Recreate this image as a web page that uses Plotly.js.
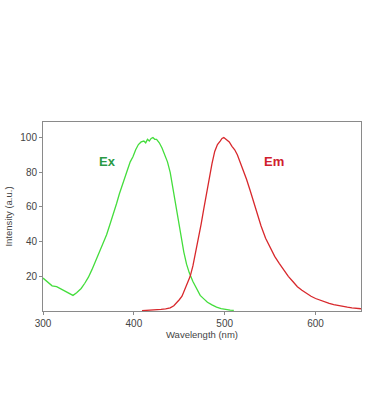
<!DOCTYPE html>
<html>
<head>
<meta charset="utf-8">
<script src="https://cdn.plot.ly/plotly-3.0.1.min.js"></script>
<style>html,body{margin:0;padding:0;background:#fff;}#chart{width:370px;height:420px;}</style>
</head>
<body>
<div id="chart"></div>
<script>
var exWavelength = [300,305,310,315,320,325,330,333,337,342,346,350,354,358,362,366,370,374,378,381,384,387,390,393,396,399,402,405,408,411,413,415,417,419,421,423,425,428,431,434,437,440,443,446,449,452,455,458,461,465,469,473,477,481,486,491,496,501,506,510];
var exIntensity  = [19,17,14.5,14,12.5,11,9.5,9,10.5,13,16,19.5,24,29,34,39.5,44,50.5,56.5,62,67.5,72.5,77,81.5,86,89,93,96,97.5,98,97,99,98,99.5,100,99,99,97,94,90,86,80,71,60,51,42,34,27,22,17,12.5,9,7,5,3.5,2.2,1.4,0.8,0.5,0.4];
var emWavelength = [409,415,420,425,430,435,440,444,447,450,453,456,459,462,465,468,471,474,477,480,483,486,489,492,495,497,499,502,505,508,511,514,517,520,524,528,532,536,540,545,550,555,560,565,570,575,580,585,590,595,600,605,611,615,620,625,630,635,640,645,650];
var emIntensity  = [0.2,0.3,0.4,0.6,0.9,1.2,1.8,3,4.5,6.5,8.5,12,16,20,26,33.5,42,50,59,68,77,85,92,96,98,99.5,100,99,97.5,95,93,90,86,82,76,69.5,62.5,55,49,42,36.5,31.5,27.5,23.5,20,17,14,12,10,8.5,7.2,6.2,5.2,4.4,3.7,3.1,2.7,2.2,1.8,1.5,1.3];
var xTicks = [300,400,500,600];
var yTicks = [20,40,60,80,100];
var labels = [{text:'Ex', x:371, y:86.5, color:'#2a9a45'},{text:'Em', x:554, y:86.5, color:'#d0202e'}];

var traces = [
  {x: exWavelength, y: exIntensity, type:'scatter', mode:'lines', line:{color:'#44dd3c', width:1.3}, hoverinfo:'skip'},
  {x: emWavelength, y: emIntensity, type:'scatter', mode:'lines', line:{color:'#d8282c', width:1.3}, hoverinfo:'skip'}
];
var layout = {
  width:370, height:420,
  margin:{l:43, r:9, t:122, b:109},
  paper_bgcolor:'#fff', plot_bgcolor:'#fff',
  showlegend:false,
  font:{family:'"Liberation Sans", Arial, sans-serif', color:'#444', size:10},
  xaxis:{range:[300,650], tickvals:xTicks, ticktext:xTicks.map(String), showgrid:false, zeroline:false,
    showline:true, linecolor:'#8a8a8a', linewidth:1, mirror:true, ticks:'outside', ticklen:3, tickcolor:'#8a8a8a',
    tickfont:{size:10, color:'#444'},
    title:{text:'Wavelength (nm)', font:{size:9.5, color:'#444'}, standoff:3}},
  yaxis:{range:[0,109], tickvals:yTicks, ticktext:yTicks.map(String), showgrid:false, zeroline:false,
    showline:true, linecolor:'#8a8a8a', linewidth:1, mirror:true, ticks:'outside', ticklen:3, tickcolor:'#8a8a8a',
    tickfont:{size:10, color:'#444'},
    title:{text:'Intensity (a.u.)', font:{size:9.5, color:'#444'}, standoff:5}},
  annotations: labels.map(function(l){return {x:l.x, y:l.y, xref:'x', yref:'y', text:'<b>'+l.text+'</b>', showarrow:false, font:{size:13, color:l.color}};})
};
Plotly.newPlot('chart', traces, layout, {staticPlot:true, displayModeBar:false});
</script>
</body>
</html>
